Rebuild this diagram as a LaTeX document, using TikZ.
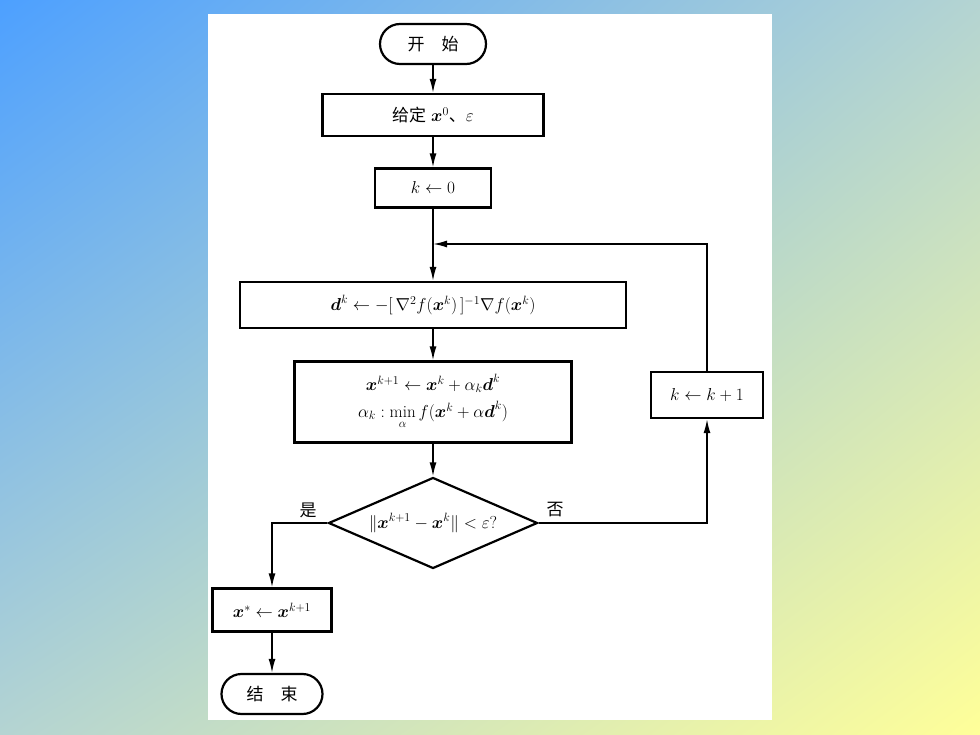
\documentclass[tikz,border=0pt]{standalone}
\usepackage{amsmath}
\usepackage{fontspec}
\newfontfamily\cjk{Noto Sans CJK SC}
\usetikzlibrary{shapes.geometric,arrows.meta,shadings}
\definecolor{bgblue}{HTML}{4DA0FF}
\definecolor{bgyellow}{HTML}{FFFF99}
\definecolor{bgmid}{HTML}{B4D4D2}
\tikzset{
  box/.style={draw, line width=2.2pt, rectangle, align=center, inner sep=2pt},
  term/.style={draw, line width=2.2pt, rectangle, rounded corners=20pt,
    minimum height=40pt},
  test/.style={draw, line width=2.2pt, diamond, aspect=2.3, inner sep=0pt,
    minimum width=209pt, minimum height=91pt},
  arr/.style={line width=1.6pt, -{Latex[length=14pt,width=7pt]}}
}
\begin{document}
\begin{tikzpicture}[x=1pt, y=-1pt, font=\fontsize{17}{24}\selectfont]
\useasboundingbox (0,0) rectangle (980,735);
% background
\shade[upper left=bgblue, lower right=bgyellow, upper right=bgmid, lower left=bgmid]
  (0,0) rectangle (980,735);
\fill[white] (208,14) rectangle (772,720);
% main column
\node[term, minimum width=106pt] (start) at (433,44) {\cjk 开\quad 始};
\node[box, minimum width=221pt, minimum height=42pt] (given) at (433,115)
  {{\cjk 给定} $\boldsymbol{x}^0${\cjk 、}$\varepsilon$};
\node[box, minimum width=116pt, minimum height=39pt] (k0) at (433,188) {$k\leftarrow 0$};
\node[box, minimum width=386pt, minimum height=46pt] (dk) at (433,305)
  {$\boldsymbol{d}^k\leftarrow-[\,\nabla^2 f(\boldsymbol{x}^k)\,]^{-1}\nabla f(\boldsymbol{x}^k)$};
\node[box, minimum width=277pt, minimum height=81pt] (xk) at (433,402)
  {$\boldsymbol{x}^{k+1}\leftarrow\boldsymbol{x}^k+\alpha_k\boldsymbol{d}^k$\\[3pt]
   $\alpha_k:\min\limits_{\alpha}f(\boldsymbol{x}^k+\alpha\boldsymbol{d}^k)$};
\node[test] (stop) at (433,523)
  {$\|\boldsymbol{x}^{k+1}-\boldsymbol{x}^k\|<\varepsilon?$};
% side boxes
\node[box, minimum width=112pt, minimum height=46pt] (kk) at (707,395) {$k\leftarrow k+1$};
\node[box, minimum width=119pt, minimum height=43pt] (xstar) at (272,610)
  {$\boldsymbol{x}^*\leftarrow\boldsymbol{x}^{k+1}$};
\node[term, minimum width=101pt] (finish) at (272,694) {\cjk 结\quad 束};
\coordinate (join) at (433,244);
% connectors
\draw[arr] (start) -- (given);
\draw[arr] (given) -- (k0);
\draw[arr] (k0) -- (dk);
\draw[arr] (dk) -- (xk);
\draw[arr] (xk) -- (stop);
\draw[arr] (stop.west) -| (xstar.north);
\draw[arr] (stop.east) -| (kk.south);
\draw[arr] (kk.north) |- (join);
\draw[arr] (xstar) -- (finish);
\node (yes) at (308,510) {\cjk 是};
\node (no) at (555,510) {\cjk 否};
\end{tikzpicture}
\end{document}
